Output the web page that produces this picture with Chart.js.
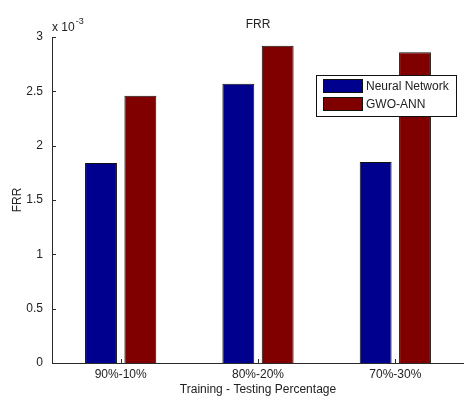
<!DOCTYPE html>
<html>
<head>
<meta charset="utf-8">
<script src="https://cdn.jsdelivr.net/npm/chart.js@4.4.1/dist/chart.umd.min.js"></script>
<style>
  html, body { margin: 0; padding: 0; background: #fff; overflow: hidden; }
  #wrap { width: 466px; height: 397px; position: relative; }
</style>
</head>
<body>
<div id="wrap"><canvas id="c"></canvas></div>
<script>
// Training/testing splits and false rejection rates for each model
const categories = ['90%-10%', '80%-20%', '70%-30%'];
const neuralNetwork = [0.00184, 0.00257, 0.00185];
const gwoAnn = [0.00246, 0.00292, 0.00286];
const seriesNames = ['Neural Network', 'GWO-ANN'];
const yTicks = [0, 0.0005, 0.001, 0.0015, 0.002, 0.0025, 0.003];

const FONT = '"Liberation Sans", Arial, sans-serif';
const TEXT = '#222';
const AXIS = '#2a2a2a';

// Small inward-pointing tick marks, exponent label and boxed legend
const extras = {
  id: 'extras',
  afterDraw(chart) {
    const ctx = chart.ctx;
    const area = chart.chartArea;
    const x = chart.scales.x, y = chart.scales.y;
    ctx.save();
    ctx.strokeStyle = AXIS;
    ctx.lineWidth = 1;
    ctx.beginPath();
    yTicks.forEach(v => {
      const py = Math.round(y.getPixelForValue(v)) + 0.5;
      ctx.moveTo(area.left, py);
      ctx.lineTo(area.left + 4, py);
    });
    categories.forEach((c, i) => {
      const px = Math.round(x.getPixelForValue(i)) + 0.5;
      ctx.moveTo(px, area.bottom);
      ctx.lineTo(px, area.bottom - 4);
    });
    ctx.stroke();

    // axis multiplier
    ctx.fillStyle = TEXT;
    ctx.textBaseline = 'middle';
    ctx.textAlign = 'left';
    ctx.font = '12px ' + FONT;
    ctx.fillText('x 10', area.left, area.top - 9);
    const w = ctx.measureText('x 10').width;
    ctx.font = '9px ' + FONT;
    ctx.fillText('-3', area.left + w + 1, area.top - 15);

    // legend
    const lx = 316, ly = 75, lw = 140, lh = 41;
    ctx.fillStyle = '#fff';
    ctx.fillRect(lx, ly, lw, lh);
    ctx.strokeStyle = '#111';
    ctx.strokeRect(lx + 0.5, ly + 0.5, lw, lh);
    ctx.font = '12px ' + FONT;
    chart.data.datasets.forEach((ds, i) => {
      const ry = ly + 4 + i * 18;
      ctx.fillStyle = ds.backgroundColor;
      ctx.fillRect(lx + 7, ry, 39, 14);
      ctx.strokeStyle = '#111';
      ctx.strokeRect(lx + 7.5, ry + 0.5, 39, 13);
      ctx.fillStyle = TEXT;
      ctx.fillText(ds.label, lx + 50, ry + 7.5);
    });
    ctx.restore();
  }
};

new Chart(document.getElementById('c'), {
  type: 'bar',
  data: {
    labels: categories,
    datasets: [
      { label: seriesNames[0], data: neuralNetwork, backgroundColor: '#00008F', borderColor: '#111', borderWidth: 1 },
      { label: seriesNames[1], data: gwoAnn, backgroundColor: '#800000', borderColor: '#111', borderWidth: 1 }
    ]
  },
  options: {
    responsive: true,
    maintainAspectRatio: false,
    animation: false,
    datasets: { bar: { categoryPercentage: 0.573, barPercentage: 0.81 } },
    layout: { padding: { left: 0, right: 2, top: 0, bottom: 0 } },
    plugins: {
      legend: { display: false },
      tooltip: { enabled: false },
      title: {
        display: true, text: 'FRR', fullSize: false, color: TEXT,
        font: { family: FONT, size: 12, weight: 'normal' },
        padding: { top: 17, bottom: 5.6 }
      }
    },
    scales: {
      x: {
        offset: true,
        grid: { display: false, drawTicks: false },
        border: { display: true, color: AXIS, width: 1 },
        ticks: { color: TEXT, font: { family: FONT, size: 12 }, padding: 4 },
        title: { display: true, text: 'Training - Testing Percentage', color: TEXT,
                 font: { family: FONT, size: 12 }, padding: { top: 0, bottom: 0 } },
        afterFit(s) { s.height = 34; }
      },
      y: {
        min: 0, max: 0.003,
        grid: { display: false, drawTicks: false },
        border: { display: true, color: AXIS, width: 1 },
        afterBuildTicks(s) { s.ticks = yTicks.map(v => ({ value: v })); },
        ticks: {
          color: TEXT, font: { family: FONT, size: 12 }, padding: 9,
          callback: v => String(parseFloat((v * 1000).toFixed(2)))
        },
        title: { display: true, text: 'FRR', color: TEXT,
                 font: { family: FONT, size: 12 }, padding: { top: 10, bottom: 0 } },
        afterFit(s) { s.width = 52; }
      }
    }
  },
  plugins: [extras]
});
</script>
</body>
</html>
